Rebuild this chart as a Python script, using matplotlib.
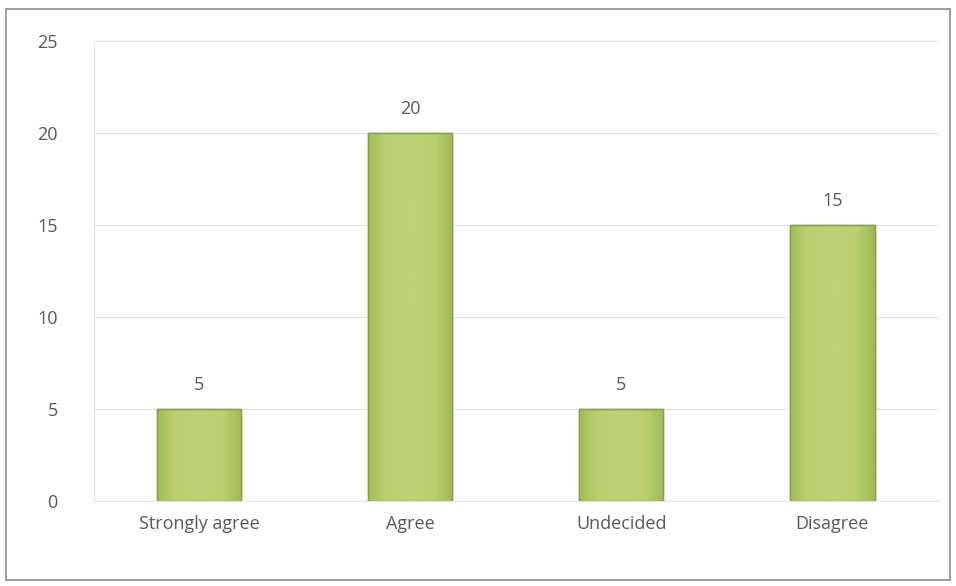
import numpy as np
import matplotlib.pyplot as plt
from matplotlib.colors import LinearSegmentedColormap
from matplotlib.patches import Rectangle

categories = ["Strongly agree", "Agree", "Undecided", "Disagree"]
values = [5, 20, 5, 15]
y_ticks = [0, 5, 10, 15, 20, 25]

text_color = "#595959"
plt.rcParams["font.family"] = ["Open Sans", "DejaVu Sans"]

fig = plt.figure(figsize=(9.56, 5.86), dpi=100)
ax = fig.add_axes([0.098, 0.145, 0.883, 0.785])

# outer frame of the chart
fig.patches.append(Rectangle((6 / 956, 6 / 586), 944 / 956, 571 / 586,
                             transform=fig.transFigure, fill=False,
                             edgecolor="#8c8c8c", linewidth=1.2))

x = np.arange(len(categories))
bars = ax.bar(x, values, width=0.4, color="#b8ce6e", edgecolor="#8a9e48",
              linewidth=1.0, zorder=3)

# soft shading inside each bar, darker near the edges
shade = LinearSegmentedColormap.from_list(
    "shade", ["#a4bb5c", "#b9cf70", "#bdd274", "#bdd274", "#b8ce6f", "#a2b95a"])
grad = np.linspace(0, 1, 64).reshape(1, -1)
for b in bars:
    x0, w, h = b.get_x(), b.get_width(), b.get_height()
    im = ax.imshow(grad, cmap=shade, aspect="auto", zorder=3.5,
                   extent=(x0, x0 + w, 0, h))
    im.set_clip_path(b)
    ax.bar(x0 + w / 2, h, width=w, fill=False, edgecolor="#8a9e48",
           linewidth=1.0, zorder=4)

for xi, v in zip(x, values):
    ax.text(xi, v + 0.8, str(v), ha="center", va="bottom",
            fontsize=13, color=text_color)

ax.set_xlim(-0.5, len(categories) - 0.5)
ax.set_ylim(0, 25)
ax.set_yticks(y_ticks)
ax.set_xticks(x)
ax.set_xticklabels(categories)
ax.tick_params(axis="both", length=0, labelsize=13, colors=text_color)
ax.tick_params(axis="x", pad=10)
ax.tick_params(axis="y", pad=26)
ax.grid(axis="y", color="#e3e3e3", linewidth=0.9, zorder=0)
for side in ["top", "right"]:
    ax.spines[side].set_visible(False)
ax.spines["left"].set_color("#e6e6e6")
ax.spines["bottom"].set_color("#e6e6e6")

fig.savefig("out.png", dpi=100)
